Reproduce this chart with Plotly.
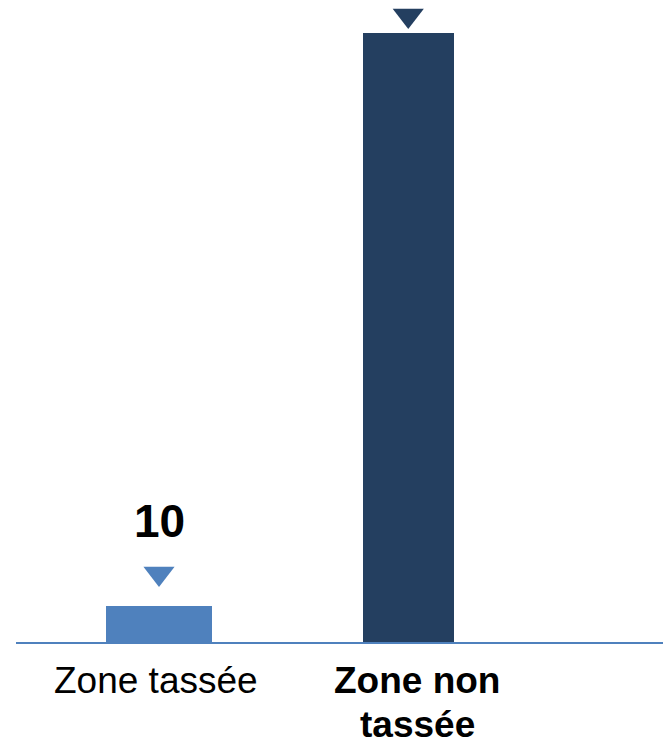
import plotly.graph_objects as go

categories = ["Zone tassée", "Zone non tassée"]
bar_values = [10, 169]
marker_values = [19, 174]
bar_colors = ["#4F81BD", "#243F60"]
bar_widths = [0.425, 0.363]
value_labels = ["10", ""]
axis_label_lines = [["Zone tassée"], ["<b>Zone non</b>", "<b>tassée</b>"]]

idx = list(range(len(categories)))

fig = go.Figure()
fig.add_trace(go.Bar(
    x=idx, y=bar_values, width=bar_widths,
    marker=dict(color=bar_colors, line=dict(width=0)),
    hoverinfo="skip", showlegend=False,
))
fig.add_trace(go.Scatter(
    x=idx, y=marker_values, mode="markers",
    marker=dict(symbol="triangle-down", size=27, color=bar_colors, line=dict(width=0)),
    cliponaxis=False, hoverinfo="skip", showlegend=False,
))

FONT = "Liberation Sans, Arial, sans-serif"
annotations = []
for i, (v, lab) in enumerate(zip(bar_values, value_labels)):
    if lab:
        annotations.append(dict(
            x=i, y=v, xref="x", yref="y", text=f"<b>{lab}</b>", showarrow=False,
            yanchor="middle", xanchor="center", yshift=85,
            font=dict(family=FONT, size=46, color="#000000"),
        ))
shifts = [-3.5, 9]
for i, lines in enumerate(axis_label_lines):
    for j, line in enumerate(lines):
        annotations.append(dict(
            x=i, y=0, xref="x", yref="paper", text=line, showarrow=False,
            yanchor="top", xanchor="center", yshift=-16 - 44 * j, xshift=shifts[i],
            font=dict(family=FONT, size=37, color="#000000"),
        ))

fig.update_layout(
    width=663, height=740,
    margin=dict(l=16, r=0, t=0, b=98),
    paper_bgcolor="white", plot_bgcolor="white",
    bargap=0,
    xaxis=dict(range=[-0.5737, 2.022], showline=True, linecolor="#4F81BD", linewidth=2,
               showticklabels=False, showgrid=False, zeroline=False, ticks=""),
    yaxis=dict(range=[0, 178.3], visible=False, showgrid=False, zeroline=False),
    annotations=annotations,
)

fig.write_html(
    "out.html",
    config={"displayModeBar": False, "staticPlot": True},
    post_script="document.body.style.margin='0';document.body.style.overflow='hidden';",
)
